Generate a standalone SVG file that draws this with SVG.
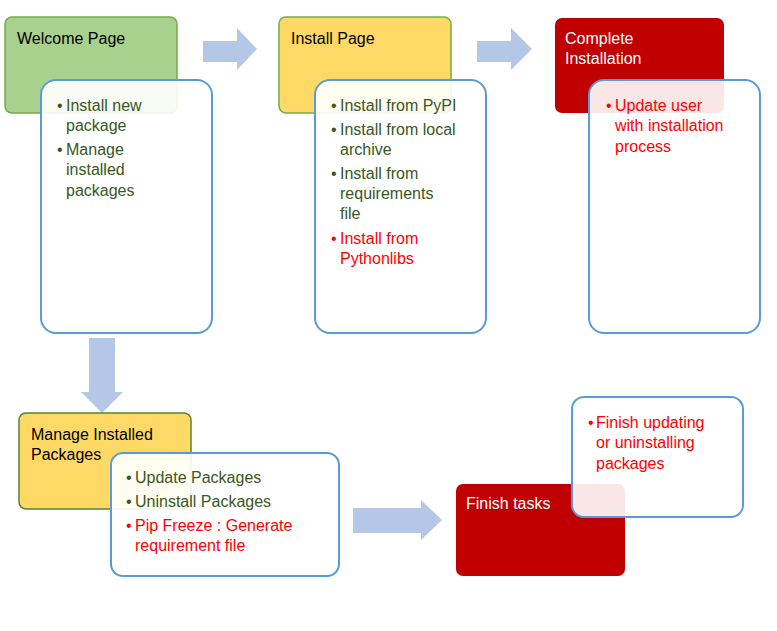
<svg xmlns="http://www.w3.org/2000/svg" width="777" height="631" viewBox="0 0 777 631">
<style>
text{font-family:"Liberation Sans",Arial,sans-serif;font-size:16px}
.hd{fill:#000}
.wt{fill:#fff}
.g{fill:#385723}
.r{fill:#ff0000}
.detail{fill:#fff;fill-opacity:0.9;stroke:#5b9bd5;stroke-width:2}
.arrow{fill:#b4c7e7}
</style>
<rect width="777" height="631" fill="#fff"/>
<g id="connectors">
<polygon class="arrow" points="203,41 237,41 237,28 257,49 237,70 237,62 203,62"/>
<polygon class="arrow" points="477,41 511,41 511,28 532,49 511,70 511,62 477,62"/>
<polygon class="arrow" points="89,338 115,338 115,392 123,392 102,413 81,392 89,392"/>
<polygon class="arrow" points="353,508 421,508 421,500 442,520 421,540 421,533 353,533"/>
</g>
<g id="welcome">
<rect x="5" y="17" width="172" height="96" rx="7" fill="#a9d18e" stroke="#70ad47" stroke-width="1.5"/>
<text class="hd" x="17" y="44">Welcome Page</text>
</g>
<g id="welcome-detail">
<rect class="detail" x="41" y="80" width="171" height="253" rx="15"/>
<text class="g" x="57" y="111">•</text><text class="g" x="66" y="111">Install new</text>
<text class="g" x="66" y="131">package</text>
<text class="g" x="57" y="155">•</text><text class="g" x="66" y="155">Manage</text>
<text class="g" x="66" y="175">installed</text>
<text class="g" x="66" y="196">packages</text>
</g>
<g id="install">
<rect x="279" y="17" width="172" height="96" rx="7" fill="#ffd966" stroke="#70ad47" stroke-width="1.5"/>
<text class="hd" x="291" y="44">Install Page</text>
</g>
<g id="install-detail">
<rect class="detail" x="315" y="80" width="171" height="253" rx="15"/>
<text class="g" x="331" y="111">•</text><text class="g" x="340" y="111">Install from PyPI</text>
<text class="g" x="331" y="135">•</text><text class="g" x="340" y="135">Install from local</text>
<text class="g" x="340" y="155">archive</text>
<text class="g" x="331" y="179">•</text><text class="g" x="340" y="179">Install from</text>
<text class="g" x="340" y="199">requirements</text>
<text class="g" x="340" y="219">file</text>
<text class="r" x="331" y="244">•</text><text class="r" x="340" y="244">Install from</text>
<text class="r" x="340" y="264">Pythonlibs</text>
</g>
<g id="complete">
<rect x="555" y="18" width="169" height="95" rx="7" fill="#c00000"/>
<text class="wt" x="565" y="44">Complete</text>
<text class="wt" x="565" y="64">Installation</text>
</g>
<g id="complete-detail">
<rect class="detail" x="589" y="80" width="171" height="253" rx="15"/>
<text class="r" x="606" y="111">•</text><text class="r" x="615" y="111">Update user</text>
<text class="r" x="615" y="131">with installation</text>
<text class="r" x="615" y="152">process</text>
</g>
<g id="manage">
<rect x="19" y="413" width="172" height="96" rx="7" fill="#ffd966" stroke="#548235" stroke-width="1.5"/>
<text class="hd" x="31" y="440">Manage Installed</text>
<text class="hd" x="31" y="460">Packages</text>
</g>
<g id="manage-detail">
<rect class="detail" x="111" y="453" width="228" height="123" rx="12"/>
<text class="g" x="126" y="483">•</text><text class="g" x="135" y="483">Update Packages</text>
<text class="g" x="126" y="507">•</text><text class="g" x="135" y="507">Uninstall Packages</text>
<text class="r" x="126" y="531">•</text><text class="r" x="135" y="531">Pip Freeze : Generate</text>
<text class="r" x="135" y="551">requirement file</text>
</g>
<g id="finish">
<rect x="456" y="484" width="169" height="92" rx="7" fill="#c00000"/>
<text class="wt" x="466" y="509">Finish tasks</text>
</g>
<g id="finish-detail">
<rect class="detail" x="572" y="397" width="171" height="120" rx="12"/>
<text class="r" x="588" y="428">•</text><text class="r" x="596" y="428">Finish updating</text>
<text class="r" x="596" y="448">or uninstalling</text>
<text class="r" x="596" y="469">packages</text>
</g>
</svg>
